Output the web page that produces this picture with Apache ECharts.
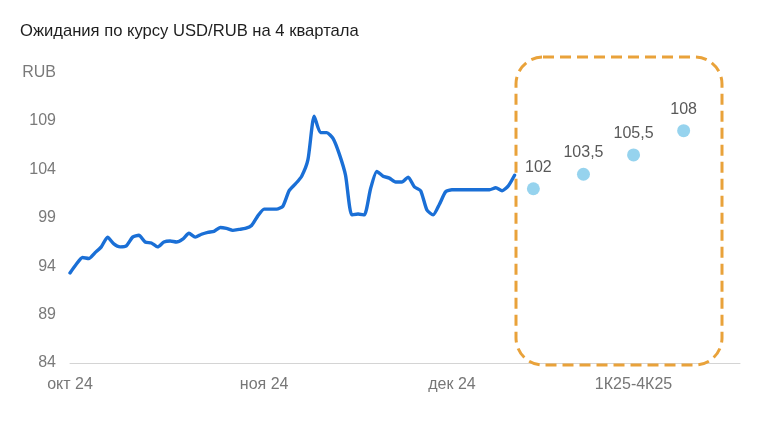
<!DOCTYPE html>
<html>
<head>
<meta charset="utf-8">
<script src="https://cdn.jsdelivr.net/npm/echarts@6/dist/echarts.min.js"></script>
<style>
html,body{margin:0;padding:0;background:#fff;}
#chart{width:758px;height:428px;}
</style>
</head>
<body>
<div id="chart"></div>
<script>
// ---- data ----
const titleText = 'Ожидания по курсу USD/RUB на 4 квартала';
const unitLabel = 'RUB';
// daily USD/RUB rate, 1 Oct 2024 onwards
const lineValues = [
  93.3, 94.2, 94.9, 94.8, 95.4, 96.0, 97.0, 96.3, 96.0, 96.1,
  97.0, 97.2, 96.5, 96.4, 96.0, 96.5, 96.6, 96.5, 96.8, 97.4,
  97.0, 97.3, 97.5, 97.6, 98.0, 97.9, 97.7, 97.8, 97.9, 98.2,
  99.2, 99.9, 99.9, 99.9, 100.2, 101.8, 102.5, 103.3, 105.0, 109.5,
  107.8, 107.8, 107.2, 105.6, 103.4, 99.3, 99.4, 99.3, 102.0, 103.8,
  103.3, 103.1, 102.7, 102.7, 103.2, 102.2, 101.8, 99.8, 99.3, 100.4,
  101.7, 101.9, 101.9, 101.9, 101.9, 101.9, 101.9, 101.9, 102.1, 101.8,
  102.3, 103.4
];
const forecastQuarters = ['1К25', '2К25', '3К25', '4К25'];
const forecastValues = [102, 103.5, 105.5, 108];
const forecastSlots = [74, 82, 90, 98];      // category slot of each quarter
const totalSlots = 108;
const xTickLabels = {0: 'окт 24', 31: 'ноя 24', 61: 'дек 24', 90: '1К25-4К25'};
const yMin = 84, yMax = 114, yStep = 5;

// ---- categories ----
const categories = [];
const start = new Date(2024, 9, 1);
for (let i = 0; i < totalSlots; i++) {
  const d = new Date(start.getTime() + i * 86400000);
  categories.push(d.getFullYear() + '-' + (d.getMonth() + 1) + '-' + d.getDate());
}
forecastSlots.forEach((s, k) => { categories[s] = forecastQuarters[k]; });

const forecastData = forecastQuarters.map((q, k) => (
  k === 0 ? {value: [q, forecastValues[k]], label: {offset: [5, 0]}} : [q, forecastValues[k]]
));

const font = '"Liberation Sans", Arial, sans-serif';
const chart = echarts.init(document.getElementById('chart'), null, {renderer: 'canvas'});
chart.setOption({
  animation: false,
  backgroundColor: '#ffffff',
  title: {
    text: titleText, left: 15, top: 18,
    textStyle: {fontSize: 16.6, fontWeight: 'normal', color: '#1e1e1e', fontFamily: font}
  },
  grid: {left: 70, right: 18, top: 72.6, bottom: 65},
  xAxis: {
    type: 'category', data: categories, boundaryGap: false,
    axisLine: {lineStyle: {color: '#d4d4d4', width: 1}},
    axisTick: {show: false},
    splitLine: {show: false},
    axisLabel: {
      interval: (idx) => xTickLabels[idx] !== undefined,
      formatter: (v, idx) => xTickLabels[idx] || '',
      color: '#777', fontSize: 16, margin: 14, fontFamily: font
    }
  },
  yAxis: {
    type: 'value', min: yMin, max: yMax, interval: yStep,
    axisLine: {show: false}, axisTick: {show: false}, splitLine: {show: false},
    axisLabel: {
      color: '#7a7a7a', fontSize: 16, margin: 14, fontFamily: font,
      formatter: (v) => v === yMax ? unitLabel : String(v)
    }
  },
  series: [
    {
      type: 'line', data: lineValues, showSymbol: false, smooth: 0.2,
      lineStyle: {color: '#1a6fd6', width: 3.4, cap: 'round', join: 'round'},
      itemStyle: {color: '#1a6fd6'}
    },
    {
      type: 'scatter', data: forecastData, symbolSize: 13,
      itemStyle: {color: '#7cc8ea'},
      label: {
        show: true, position: 'top', distance: 7,
        formatter: (p) => String(p.value[1]).replace('.', ','),
        color: '#2e2e2e', fontSize: 16, fontFamily: font
      }
    }
  ],
  graphic: [{
    type: 'rect', z: 10,
    shape: {x: 516, y: 57, width: 206, height: 308, r: 27},
    style: {fill: 'none', stroke: '#e9a23a', lineWidth: 3, lineDash: [11, 6]}
  }]
});
</script>
</body>
</html>
